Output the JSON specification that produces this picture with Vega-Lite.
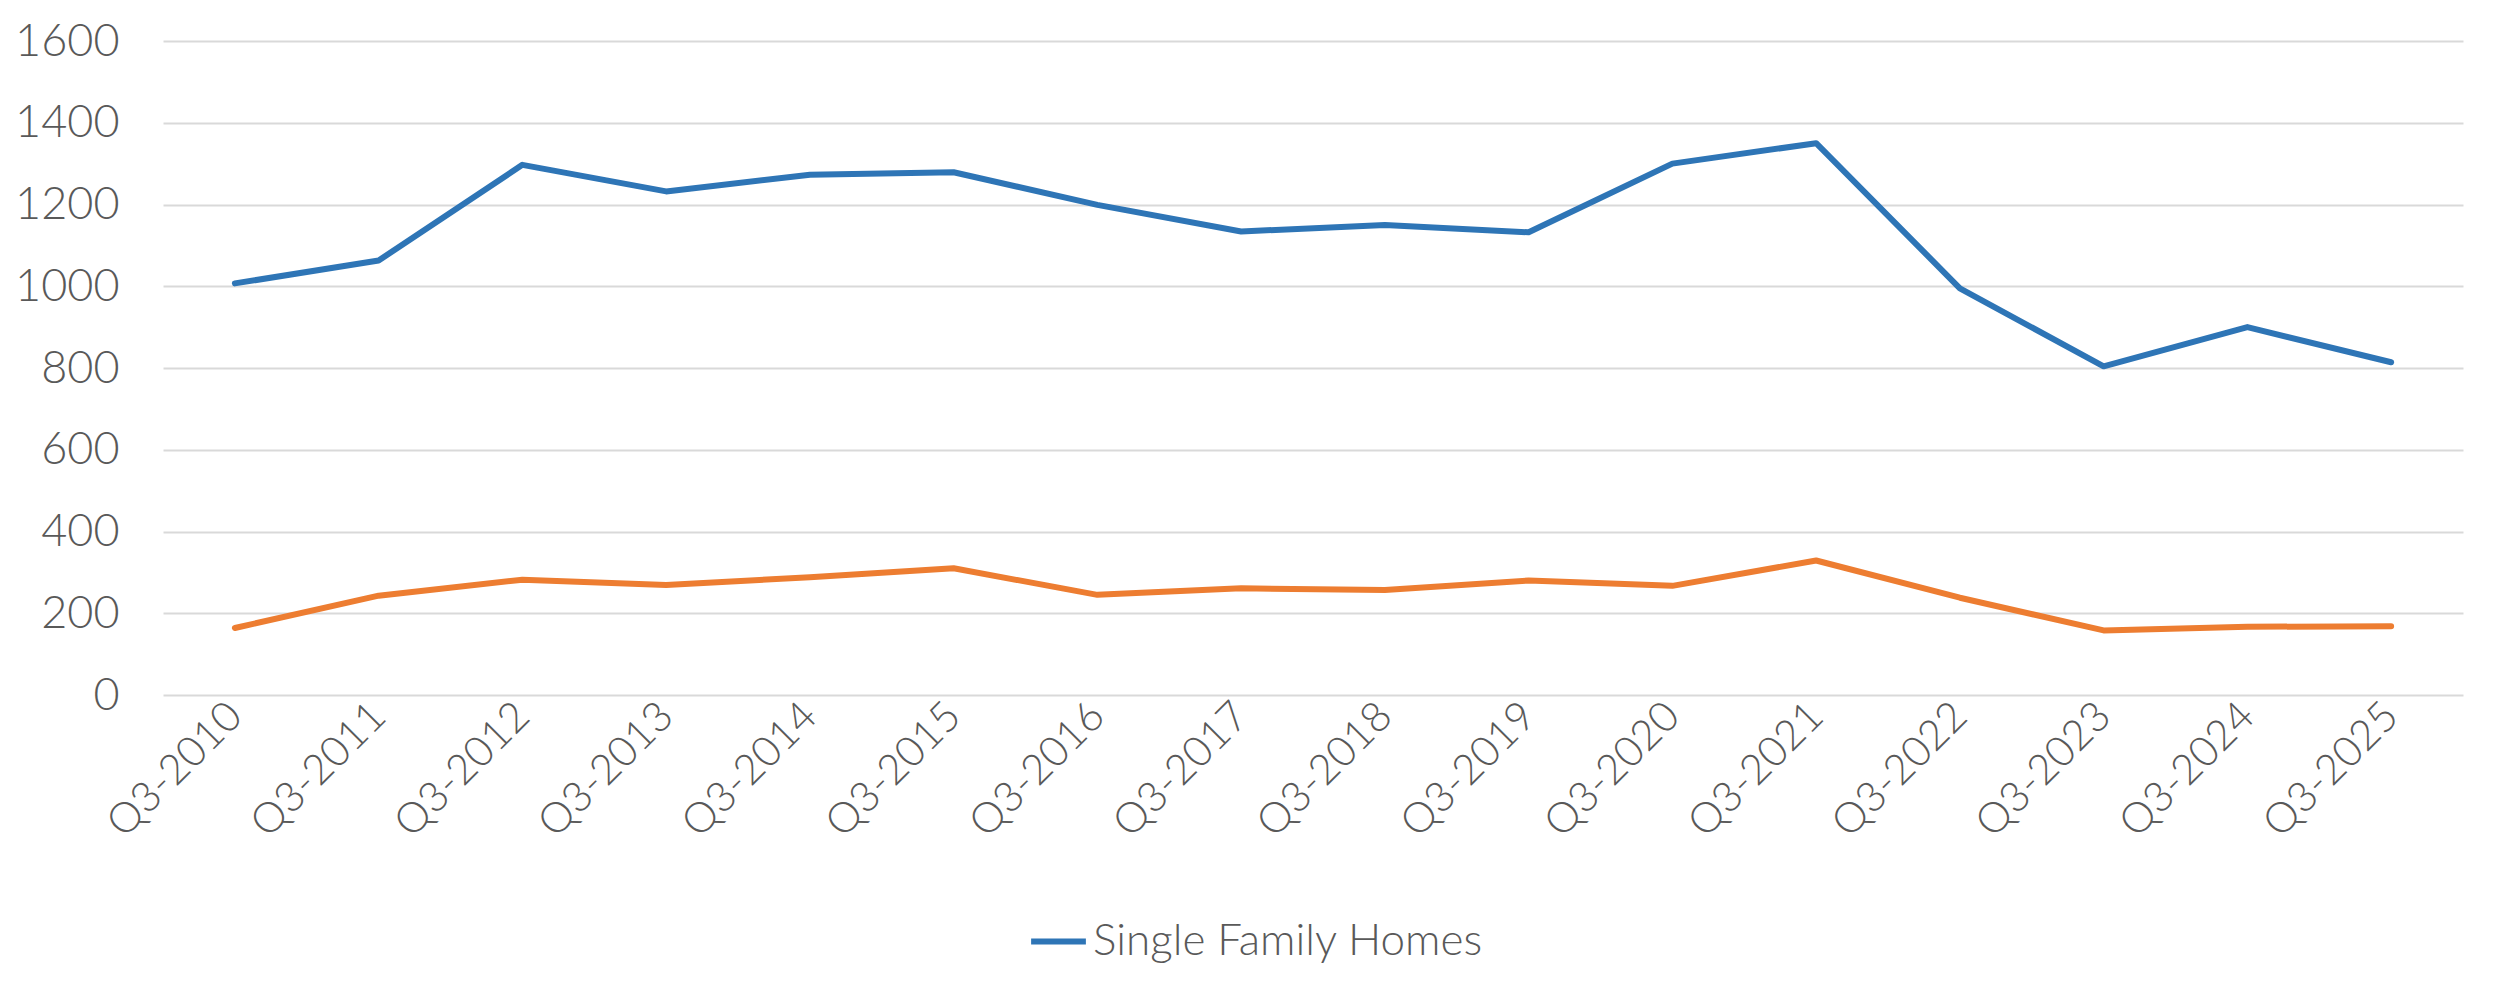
{
  "$schema": "https://vega.github.io/schema/vega-lite/v6.json",
  "width": 2300,
  "height": 654,
  "autosize": {"type": "none"},
  "padding": {"left": 163, "top": 41, "right": 37, "bottom": 296},
  "background": "white",
  "config": {
    "view": {"stroke": null},
    "font": "Lato",
    "axis": {"labelFont": "Lato", "labelFontWeight": 300, "labelColor": "#595959", "labelFontSize": 42},
    "legend": {"labelFont": "Lato", "labelFontWeight": 300, "labelColor": "#595959", "labelFontSize": 44}
  },
  "data": {
    "values": [
      {"quarter": "Q3-2010", "series": "Single Family Homes", "value": 1007},
      {"quarter": "Q3-2011", "series": "Single Family Homes", "value": 1063},
      {"quarter": "Q3-2012", "series": "Single Family Homes", "value": 1297},
      {"quarter": "Q3-2013", "series": "Single Family Homes", "value": 1232},
      {"quarter": "Q3-2014", "series": "Single Family Homes", "value": 1273},
      {"quarter": "Q3-2015", "series": "Single Family Homes", "value": 1279},
      {"quarter": "Q3-2016", "series": "Single Family Homes", "value": 1199},
      {"quarter": "Q3-2017", "series": "Single Family Homes", "value": 1134},
      {"quarter": "Q3-2018", "series": "Single Family Homes", "value": 1150},
      {"quarter": "Q3-2019", "series": "Single Family Homes", "value": 1132},
      {"quarter": "Q3-2020", "series": "Single Family Homes", "value": 1300},
      {"quarter": "Q3-2021", "series": "Single Family Homes", "value": 1350},
      {"quarter": "Q3-2022", "series": "Single Family Homes", "value": 995},
      {"quarter": "Q3-2023", "series": "Single Family Homes", "value": 804},
      {"quarter": "Q3-2024", "series": "Single Family Homes", "value": 900},
      {"quarter": "Q3-2025", "series": "Single Family Homes", "value": 814},
      {"quarter": "Q3-2010", "series": "Condominiums", "value": 164},
      {"quarter": "Q3-2011", "series": "Condominiums", "value": 243},
      {"quarter": "Q3-2012", "series": "Condominiums", "value": 282},
      {"quarter": "Q3-2013", "series": "Condominiums", "value": 269},
      {"quarter": "Q3-2014", "series": "Condominiums", "value": 288},
      {"quarter": "Q3-2015", "series": "Condominiums", "value": 310},
      {"quarter": "Q3-2016", "series": "Condominiums", "value": 245},
      {"quarter": "Q3-2017", "series": "Condominiums", "value": 261},
      {"quarter": "Q3-2018", "series": "Condominiums", "value": 257},
      {"quarter": "Q3-2019", "series": "Condominiums", "value": 280},
      {"quarter": "Q3-2020", "series": "Condominiums", "value": 267},
      {"quarter": "Q3-2021", "series": "Condominiums", "value": 329},
      {"quarter": "Q3-2022", "series": "Condominiums", "value": 238},
      {"quarter": "Q3-2023", "series": "Condominiums", "value": 158},
      {"quarter": "Q3-2024", "series": "Condominiums", "value": 167},
      {"quarter": "Q3-2025", "series": "Condominiums", "value": 168}
    ]
  },
  "mark": {"type": "line", "strokeWidth": 6, "strokeCap": "round", "strokeJoin": "round"},
  "encoding": {
    "x": {
      "field": "quarter",
      "type": "ordinal",
      "sort": null,
      "scale": {"type": "point", "padding": 0.5},
      "axis": {
        "title": null,
        "labelAngle": -45,
        "labelAlign": "right",
        "labelBaseline": "middle",
        "ticks": false,
        "tickSize": 0,
        "domain": false,
        "grid": false,
        "labelPadding": 14
      }
    },
    "y": {
      "field": "value",
      "type": "quantitative",
      "scale": {"domain": [0, 1600], "nice": false},
      "axis": {
        "title": null,
        "format": "d",
        "labelFontSize": 45,
        "values": [0, 200, 400, 600, 800, 1000, 1200, 1400, 1600],
        "ticks": false,
        "tickSize": 0,
        "domain": false,
        "grid": true,
        "gridColor": "#d9d9d9",
        "gridWidth": 2,
        "labelPadding": 44
      }
    },
    "color": {
      "field": "series",
      "type": "nominal",
      "scale": {"domain": ["Single Family Homes", "Condominiums"], "range": ["#2E75B6", "#ED7D31"]},
      "legend": {
        "title": null,
        "values": ["Single Family Homes"],
        "orient": "none",
        "legendX": 865,
        "legendY": 870,
        "symbolType": "stroke",
        "symbolStrokeWidth": 6,
        "symbolSize": 3000,
        "labelOffset": 4,
        "labelLimit": 0
      }
    }
  }
}
